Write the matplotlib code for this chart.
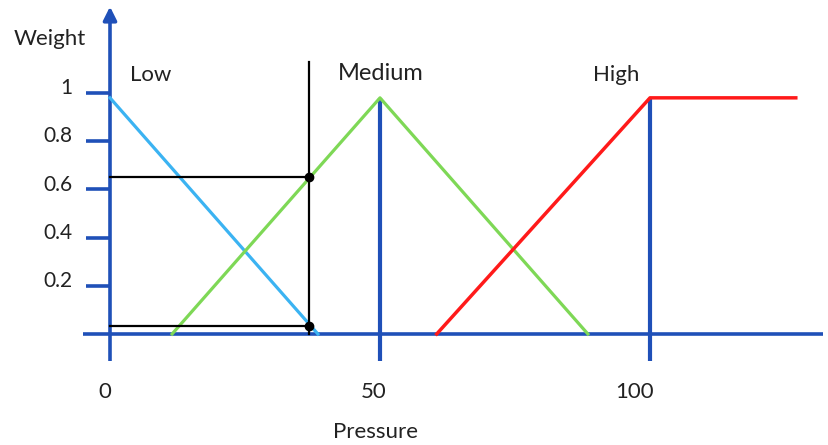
import numpy as np
import matplotlib.pyplot as plt

plt.rcParams['font.family'] = ['Lato', 'DejaVu Sans']

# membership functions (pressure, weight)
low_x = [0, 38.5]
low_y = [0.98, 0]
medium_x = [11.5, 50, 88.5]
medium_y = [0, 0.98, 0]
high_x = [60.5, 100, 127]
high_y = [0, 0.98, 0.98]

# reading at a given pressure
p_read = 36.8
w_medium = 0.65
w_low = 0.035

x_ticks = [0, 50, 100]
x_tick_labels = ['0', '50', '100']
x_label_shift = [-1.0, -1.2, -2.8]
y_ticks = [0.2, 0.4, 0.6, 0.8, 1.0]
y_tick_labels = ['0.2', '0.4', '0.6', '0.8', '1']

axis_blue = '#1f50b8'
text_col = '#222222'

fig = plt.figure(figsize=(8.29, 4.45), dpi=100)
ax = fig.add_axes([0, 0, 1, 1])
ax.set_xlim(-20.37, 133.15)
ax.set_ylim(-0.4606, 1.386)
ax.axis('off')

# axes lines
ax.plot([-5, 132], [0, 0], color=axis_blue, lw=2.6, solid_capstyle='butt')
ax.plot([0, 0], [-0.11, 1.3], color=axis_blue, lw=2.6, solid_capstyle='butt')
ax.annotate('', xy=(0, 1.37), xytext=(0, 1.29),
            arrowprops=dict(arrowstyle='-|>', color=axis_blue, lw=2.6, mutation_scale=20))
ax.annotate('', xy=(134.5, 0), xytext=(130, 0),
            arrowprops=dict(arrowstyle='-|>', color=axis_blue, lw=2.6, mutation_scale=20))

# y ticks
for yt, lab in zip(y_ticks, y_tick_labels):
    ax.plot([-4.5, 0], [yt, yt], color=axis_blue, lw=2.6, solid_capstyle='butt')
    ax.text(-7.0, yt + 0.02, lab, ha='right', va='center', fontsize=15, color=text_col)

# x ticks (verticals at 50 and 100 reach the top of the sets)
ax.plot([50, 50], [-0.11, 0.98], color=axis_blue, lw=3, solid_capstyle='butt')
ax.plot([100, 100], [-0.11, 0.98], color=axis_blue, lw=3, solid_capstyle='butt')
for xt, lab, dx in zip(x_ticks, x_tick_labels, x_label_shift):
    ax.text(xt + dx, -0.24, lab, ha='center', va='center', fontsize=16, color=text_col)

# membership curves
ax.plot(low_x, low_y, color='#3bb3f2', lw=2.3)
ax.plot(medium_x, medium_y, color='#7ed856', lw=2.3)
ax.plot(high_x, high_y, color='#ff1a1a', lw=2.5)

# reading lines
ax.plot([p_read, p_read], [0, 1.13], color='black', lw=1.6)
ax.plot([0, p_read], [w_medium, w_medium], color='black', lw=1.6)
ax.plot([0, p_read], [w_low, w_low], color='black', lw=1.6)
ax.plot([p_read, p_read], [w_medium, w_low], 'o', color='black', ms=6)

# labels
ax.text(-11.1, 1.224, 'Weight', ha='center', va='center', fontsize=16, color=text_col)
ax.text(7.6, 1.075, 'Low', ha='center', va='center', fontsize=16, color=text_col)
ax.text(50.2, 1.083, 'Medium', ha='center', va='center', fontsize=17, color=text_col)
ax.text(93.7, 1.075, 'High', ha='center', va='center', fontsize=16, color=text_col)
ax.text(49.1, -0.405, 'Pressure', ha='center', va='center', fontsize=16, color=text_col)

fig.savefig('out.png', dpi=100)
